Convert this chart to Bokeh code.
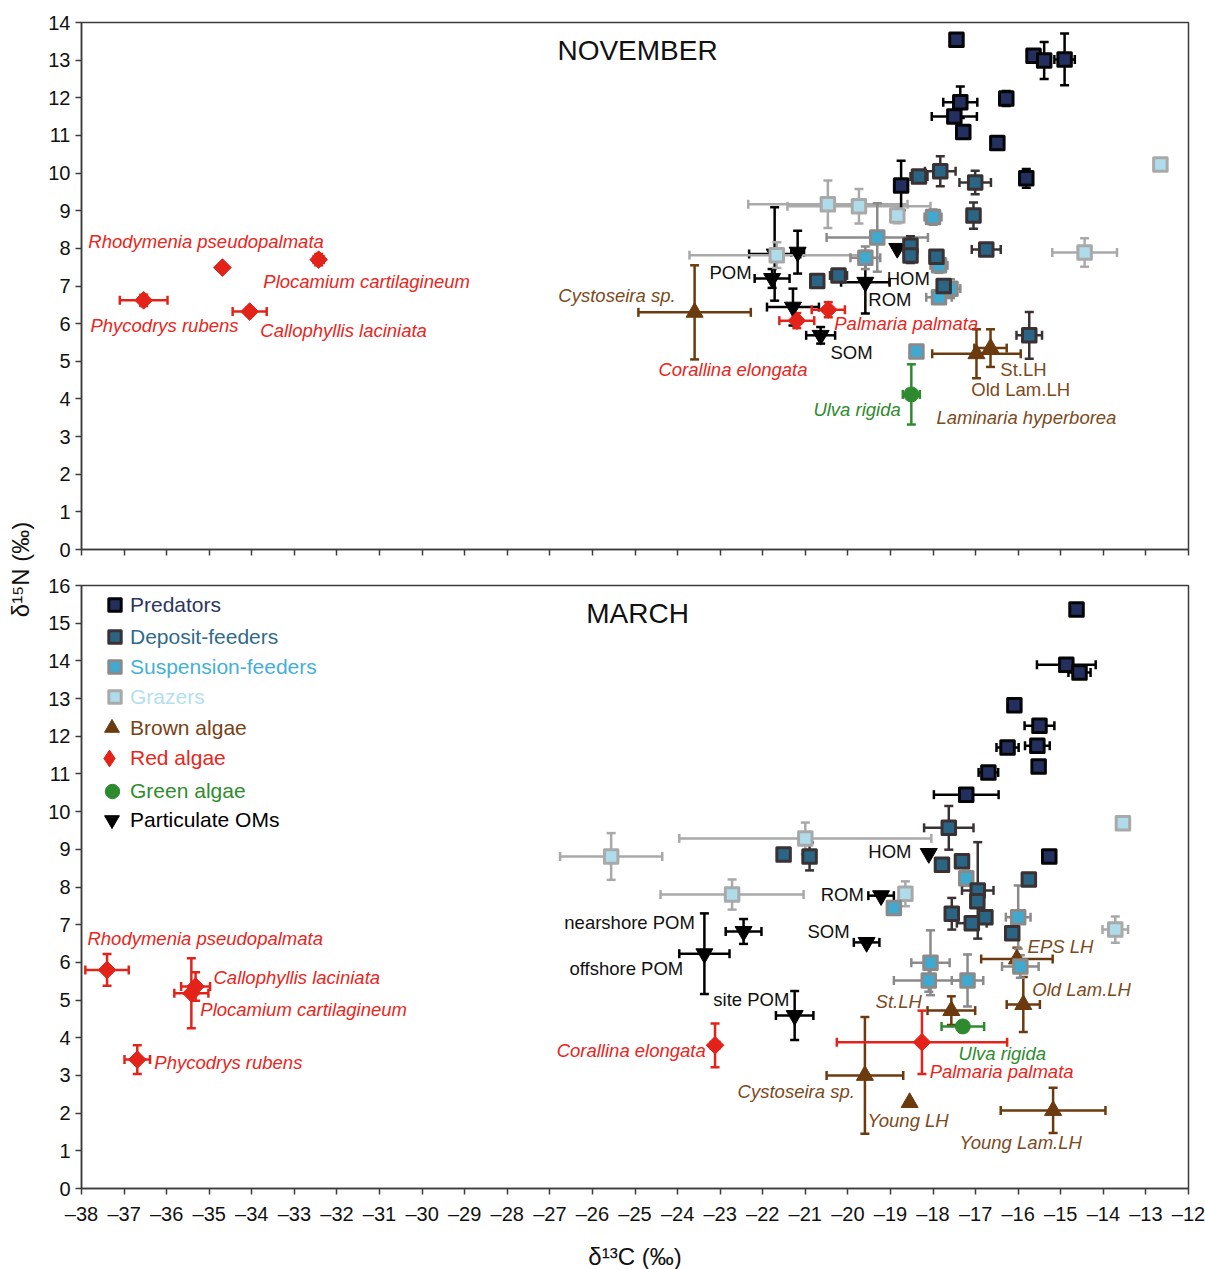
import math
from bokeh.plotting import figure
from bokeh.layouts import row, column
from bokeh.models import (ColumnDataSource, Whisker, TeeHead, Range1d, FixedTicker,
                          Legend, LegendItem, Label)
from bokeh.core.properties import value
from bokeh.embed import file_html
from bokeh.resources import INLINE

FONT = "Liberation Sans"

# ---------------- axes ----------------
X_TICKS = list(range(-38, -11))
X_TICK_LABELS = {t: "\u2013" + str(abs(t)) for t in X_TICKS}
NOV_Y_TICKS = list(range(0, 15))
MAR_Y_TICKS = list(range(0, 17))

# ---------------- NOVEMBER data ----------------
nov_pred_x = [-17.45, -15.64, -15.39, -14.91, -17.36, -17.50, -17.29, -16.28, -16.49, -15.81, -18.75]
nov_pred_y = [13.54, 13.12, 12.99, 13.02, 11.88, 11.50, 11.09, 11.98, 10.80, 9.86, 9.67]
nov_pred_xe = [0, 0, 0.12, 0.24, 0.40, 0.53, 0, 0.10, 0, 0.10, 0]
nov_pred_ye = [0, 0, 0.49, 0.69, 0.42, 0.10, 0, 0.20, 0, 0.25, 0.66]

nov_dep_x = [-18.33, -17.83, -17.01, -17.05, -16.75, -18.53, -18.53, -17.92, -20.72, -20.22, -15.74, -17.75]
nov_dep_y = [9.91, 10.05, 9.75, 8.87, 7.97, 8.07, 7.81, 7.78, 7.13, 7.28, 5.69, 7.00]
nov_dep_xe = [0.20, 0.36, 0.37, 0.15, 0.34, 0.15, 0.15, 0.15, 0, 0.20, 0.30, 0]
nov_dep_ye = [0.15, 0.40, 0.31, 0.35, 0.12, 0.25, 0.20, 0.15, 0, 0.15, 0.62, 0]

nov_sus_x = [-18.00, -19.31, -19.59, -17.86, -17.59, -17.86, -18.39]
nov_sus_y = [8.83, 8.29, 7.75, 7.55, 6.93, 6.70, 5.26]
nov_sus_xe = [0.20, 1.19, 0.35, 0.20, 0.23, 0.30, 0]
nov_sus_ye = [0.20, 0.91, 0.30, 0.20, 0.25, 0.15, 0]

nov_gra_x = [-20.47, -19.74, -18.84, -21.67, -14.44, -12.66]
nov_gra_y = [9.17, 9.12, 8.87, 7.82, 7.89, 10.23]
nov_gra_xe = [1.87, 1.68, 0.10, 2.05, 0.76, 0]
nov_gra_ye = [0.63, 0.46, 0.20, 0.34, 0.38, 0]

nov_brown_x = [-23.60, -16.98, -16.65]
nov_brown_y = [6.30, 5.20, 5.35]
nov_brown_xe = [1.32, 1.04, 0.38]
nov_brown_ye = [1.25, 0.65, 0.50]

nov_red_x = [-36.54, -34.69, -32.43, -34.05, -20.46, -21.20]
nov_red_y = [6.62, 7.49, 7.70, 6.32, 6.37, 6.08]
nov_red_xe = [0.56, 0, 0.12, 0.40, 0.39, 0.41]
nov_red_ye = [0.15, 0, 0.15, 0.10, 0.20, 0.20]

nov_green_x = [-18.51]
nov_green_y = [4.12]
nov_green_xe = [0.20]
nov_green_ye = [0.80]

nov_pom_x = [-21.72, -21.18, -21.78, -21.29, -20.64, -19.59, -18.84]
nov_pom_y = [7.85, 7.90, 7.20, 6.44, 5.69, 7.10, 8.00]
nov_pom_xe = [0.60, 0.15, 0.41, 0.61, 0.34, 0.57, 0]
nov_pom_ye = [1.24, 0.57, 0.25, 0.49, 0.22, 0.83, 0]

# ---------------- MARCH data ----------------
mar_pred_x = [-14.63, -14.87, -14.56, -16.09, -15.50, -16.25, -15.55, -15.52, -16.70, -17.22, -15.27]
mar_pred_y = [15.36, 13.90, 13.69, 12.82, 12.28, 11.70, 11.75, 11.20, 11.04, 10.45, 8.81]
mar_pred_xe = [0, 0.69, 0.26, 0, 0.35, 0.26, 0.29, 0, 0.23, 0.76, 0]
mar_pred_ye = [0, 0, 0, 0, 0, 0, 0, 0, 0, 0, 0]

mar_dep_x = [-17.63, -17.79, -17.32, -16.95, -16.96, -17.56, -17.09, -16.77, -16.14, -15.75, -21.51, -20.90]
mar_dep_y = [9.57, 8.59, 8.68, 7.91, 7.62, 7.29, 7.04, 7.20, 6.77, 8.20, 8.86, 8.81]
mar_dep_xe = [0.58, 0, 0, 0.37, 0, 0, 0.35, 0, 0, 0, 0, 0]
mar_dep_ye = [0.58, 0, 0, 1.28, 0, 0.42, 0, 0, 0, 0, 0, 0.37]

mar_sus_x = [-17.22, -18.92, -16.00, -15.95, -18.06, -18.10, -17.19]
mar_sus_y = [8.23, 7.44, 7.20, 5.89, 5.99, 5.52, 5.52]
mar_sus_xe = [0.15, 0, 0.29, 0.43, 0.45, 0.82, 0.37]
mar_sus_ye = [0.20, 0, 0.84, 0.30, 0.86, 0.30, 0.69]

mar_gra_x = [-25.56, -21.00, -22.72, -18.65, -13.72, -13.54]
mar_gra_y = [8.81, 9.29, 7.80, 7.82, 6.87, 9.69]
mar_gra_xe = [1.20, 2.96, 1.68, 0.10, 0.30, 0]
mar_gra_ye = [0.62, 0.42, 0.40, 0.33, 0.35, 0]

mar_brown_x = [-16.03, -15.88, -17.57, -19.60, -18.55, -15.18]
mar_brown_y = [6.09, 4.88, 4.72, 3.00, 2.28, 2.07]
mar_brown_xe = [0.84, 0.39, 0.56, 0.90, 0, 1.23]
mar_brown_ye = [0.30, 0.73, 0.38, 1.55, 0, 0.60]

mar_red_x = [-37.40, -35.42, -35.32, -36.69, -23.12, -18.26]
mar_red_y = [5.80, 5.18, 5.36, 3.42, 3.80, 3.88]
mar_red_xe = [0.51, 0.40, 0.34, 0.30, 0.10, 2.00]
mar_red_ye = [0.42, 0.93, 0.38, 0.38, 0.58, 0.84]

mar_green_x = [-17.30]
mar_green_y = [4.30]
mar_green_xe = [0.50]
mar_green_ye = [0.10]

mar_pom_x = [-22.45, -23.37, -21.25, -19.56, -19.22, -18.10]
mar_pom_y = [6.82, 6.23, 4.59, 6.53, 7.77, 8.89]
mar_pom_xe = [0.42, 0.59, 0.44, 0.30, 0.30, 0]
mar_pom_ye = [0.33, 1.07, 0.65, 0, 0, 0]

# ---------------- annotation texts ----------------
nov_lab_text = ["Rhodymenia pseudopalmata", "Plocamium cartilagineum", "Phycodrys rubens",
                "Callophyllis laciniata", "Cystoseira sp.", "POM", "HOM", "ROM",
                "Palmaria palmata", "SOM", "Corallina elongata", "St.LH", "Old Lam.LH",
                "Ulva rigida", "Laminaria hyperborea"]
nov_lab_x = [-37.84, -33.73, -37.79, -33.80, -26.80, -23.25, -19.09, -19.52,
             -20.32, -20.41, -24.45, -16.42, -17.10, -20.81, -17.92]
nov_lab_y = [8.18, 7.12, 5.95, 5.82, 6.75, 7.36, 7.20, 6.64,
             6.00, 5.23, 4.78, 4.78, 4.25, 3.72, 3.51]
nov_lab_kind = ["red", "red", "red", "red", "brown_i", "black", "black", "black",
                "red", "black", "red", "brown", "brown", "green", "brown_i"]

mar_lab_text = ["HOM", "ROM", "nearshore POM", "SOM", "offshore POM", "site POM",
                "EPS LH", "Old Lam.LH", "St.LH", "Corallina elongata", "Ulva rigida",
                "Palmaria palmata", "Cystoseira sp.", "Young LH", "Young Lam.LH",
                "Rhodymenia pseudopalmata", "Callophyllis laciniata",
                "Plocamium cartilagineum", "Phycodrys rubens"]
mar_lab_x = [-19.52, -20.64, -26.66, -20.95, -26.54, -23.16,
             -15.78, -15.67, -19.35, -26.84, -17.40,
             -18.08, -22.59, -19.54, -17.38,
             -37.86, -34.90, -35.21, -36.29]
mar_lab_y = [8.94, 7.80, 7.06, 6.82, 5.84, 5.01,
             6.42, 5.28, 4.96, 3.66, 3.58,
             3.10, 2.57, 1.80, 1.22,
             6.63, 5.60, 4.75, 3.34]
mar_lab_kind = ["black", "black", "black", "black", "black", "black",
                "brown_i", "brown_i", "brown_i", "red", "green",
                "red", "brown_i", "brown_i", "brown_i",
                "red", "red", "red", "red"]

LEGEND_NAMES = ["Predators", "Deposit-feeders", "Suspension-feeders", "Grazers",
                "Brown algae", "Red algae", "Green algae", "Particulate OMs"]

# ---------------- styles ----------------
STYLES = {
    "pred": dict(marker="square", size=13.5, fill="#23305f", line="#050505", lw=3, bar="#000000", angle=0, text="#2b3560", box=31),
    "dep": dict(marker="square", size=13.5, fill="#2b6585", line="#3a3232", lw=3, bar="#3a3232", angle=0, text="#2f6b8a", box=31),
    "sus": dict(marker="square", size=13.5, fill="#3eaad1", line="#8a8a8a", lw=3, bar="#8a8a8a", angle=0, text="#45b0d6", box=31),
    "gra": dict(marker="square", size=13.5, fill="#afdcea", line="#a9a9a9", lw=3, bar="#a9a9a9", angle=0, text="#b3dff0", box=31),
    "brown": dict(marker="triangle", size=17, fill="#6b3a0e", line="#6b3a0e", lw=1, bar="#6b3a0e", angle=0, text="#7a4214", box=37),
    "red": dict(marker="square", size=12.5, fill="#e3231a", line="#e3231a", lw=1, bar="#e3231a", angle=math.pi / 4, text="#e8261c", box=42),
    "green": dict(marker="circle", size=15, fill="#2e8a2e", line="#2e8a2e", lw=1, bar="#2e8a2e", angle=0, text="#2f8c2f", box=36),
    "pom": dict(marker="inverted_triangle", size=17, fill="#000000", line="#000000", lw=1, bar="#000000", angle=0, text="#000000", box=37),
}
LABEL_KINDS = {
    "red": ("#e8261c", "italic"),
    "green": ("#2e8b2e", "italic"),
    "brown_i": ("#7b4a1c", "italic"),
    "brown": ("#7b4a1c", "normal"),
    "black": ("#111111", "normal"),
}
AXIS_COLOR = "#3c3c3c"


def make_panel(y_max, y_ticks, frame_h, border_top, border_bottom, show_x_labels):
    p = figure(frame_width=1107, frame_height=frame_h,
               x_range=Range1d(-38, -12), y_range=Range1d(0, y_max),
               output_backend="svg", toolbar_location=None,
               min_border_left=38, min_border_right=17,
               min_border_top=border_top, min_border_bottom=border_bottom)
    p.grid.visible = False
    p.outline_line_color = AXIS_COLOR
    p.outline_line_width = 1.5
    p.background_fill_color = "white"
    for ax in (p.xaxis[0], p.yaxis[0]):
        ax.axis_line_color = AXIS_COLOR
        ax.axis_line_width = 1.5
        ax.major_tick_line_color = AXIS_COLOR
        ax.major_tick_line_width = 1.5
        ax.major_tick_out = 6
        ax.major_tick_in = 0
        ax.minor_tick_line_color = None
        ax.major_label_text_font = FONT
        ax.major_label_text_font_size = "20px"
        ax.major_label_text_color = "#111111"
    p.xaxis[0].ticker = FixedTicker(ticks=X_TICKS)
    p.yaxis[0].ticker = FixedTicker(ticks=y_ticks)
    p.yaxis[0].major_label_standoff = 5
    if show_x_labels:
        p.xaxis[0].major_label_overrides = X_TICK_LABELS
        p.xaxis[0].major_label_standoff = 8
        p.xaxis[0].axis_label = "\u03b4\u00b9\u00b3C (\u2030)"
        p.xaxis[0].axis_label_text_font = FONT
        p.xaxis[0].axis_label_text_font_style = "normal"
        p.xaxis[0].axis_label_text_font_size = "24px"
        p.xaxis[0].axis_label_standoff = 15
        p.xaxis[0].axis_label_text_color = "#111111"
    else:
        p.xaxis[0].major_label_text_font_size = "1px"
        p.xaxis[0].major_label_text_color = None
        p.xaxis[0].major_label_standoff = 0
    return p


def add_bars(p, base, centre, err, dim, color):
    keep = [(b, c, e) for b, c, e in zip(base, centre, err) if e > 0]
    if not keep:
        return
    src = ColumnDataSource(dict(base=[k[0] for k in keep],
                                lower=[k[1] - k[2] for k in keep],
                                upper=[k[1] + k[2] for k in keep]))
    w = Whisker(source=src, base="base", lower="lower", upper="upper", dimension=dim,
                line_color=color, line_width=2.5,
                lower_head=TeeHead(size=9, line_color=color, line_width=2.5),
                upper_head=TeeHead(size=9, line_color=color, line_width=2.5))
    p.add_layout(w)


def draw_group(p, xs, ys, xes, yes, key):
    st = STYLES[key]
    add_bars(p, ys, xs, xes, "width", st["bar"])
    add_bars(p, xs, ys, yes, "height", st["bar"])
    src = ColumnDataSource(dict(x=xs, y=ys))
    key_r = None
    if key == "red":
        # plain diamond underneath the rotated square: serves as the legend key
        key_r = p.scatter("x", "y", source=src, marker="diamond", size=15,
                          fill_color=st["fill"], line_color=st["line"], line_width=1)
    r = p.scatter("x", "y", source=src, marker=st["marker"], size=st["size"],
                  fill_color=st["fill"], line_color=st["line"], line_width=st["lw"],
                  line_join="round", angle=st["angle"])
    return key_r if key_r is not None else r


def draw_labels(p, texts, xs, ys, kinds):
    for kind, (color, style) in LABEL_KINDS.items():
        idx = [i for i, k in enumerate(kinds) if k == kind]
        if not idx:
            continue
        src = ColumnDataSource(dict(x=[xs[i] for i in idx], y=[ys[i] for i in idx],
                                    t=[texts[i] for i in idx]))
        p.text("x", "y", text="t", source=src, text_font=value(FONT),
               text_font_size="18.5px", text_font_style=style, text_color=color,
               text_align="left", text_baseline="middle")


# ---------------- NOVEMBER panel ----------------
top = make_panel(14, NOV_Y_TICKS, 527, 22, 22, False)
draw_group(top, nov_pom_x, nov_pom_y, nov_pom_xe, nov_pom_ye, "pom")
draw_group(top, nov_brown_x, nov_brown_y, nov_brown_xe, nov_brown_ye, "brown")
draw_group(top, nov_red_x, nov_red_y, nov_red_xe, nov_red_ye, "red")
draw_group(top, nov_green_x, nov_green_y, nov_green_xe, nov_green_ye, "green")
draw_group(top, nov_gra_x, nov_gra_y, nov_gra_xe, nov_gra_ye, "gra")
draw_group(top, nov_sus_x, nov_sus_y, nov_sus_xe, nov_sus_ye, "sus")
draw_group(top, nov_dep_x, nov_dep_y, nov_dep_xe, nov_dep_ye, "dep")
draw_group(top, nov_pred_x, nov_pred_y, nov_pred_xe, nov_pred_ye, "pred")
draw_labels(top, nov_lab_text, nov_lab_x, nov_lab_y, nov_lab_kind)
top.add_layout(Label(x=-24.94, y=13.26, text="NOVEMBER", text_align="center",
                     text_baseline="middle", text_font=FONT, text_font_size="28px",
                     text_color="#111111"))

# ---------------- MARCH panel ----------------
bot = make_panel(16, MAR_Y_TICKS, 603, 14, 80, True)
r_pom = draw_group(bot, mar_pom_x, mar_pom_y, mar_pom_xe, mar_pom_ye, "pom")
r_brown = draw_group(bot, mar_brown_x, mar_brown_y, mar_brown_xe, mar_brown_ye, "brown")
r_red = draw_group(bot, mar_red_x, mar_red_y, mar_red_xe, mar_red_ye, "red")
r_green = draw_group(bot, mar_green_x, mar_green_y, mar_green_xe, mar_green_ye, "green")
r_gra = draw_group(bot, mar_gra_x, mar_gra_y, mar_gra_xe, mar_gra_ye, "gra")
r_sus = draw_group(bot, mar_sus_x, mar_sus_y, mar_sus_xe, mar_sus_ye, "sus")
r_dep = draw_group(bot, mar_dep_x, mar_dep_y, mar_dep_xe, mar_dep_ye, "dep")
r_pred = draw_group(bot, mar_pred_x, mar_pred_y, mar_pred_xe, mar_pred_ye, "pred")
draw_labels(bot, mar_lab_text, mar_lab_x, mar_lab_y, mar_lab_kind)
bot.add_layout(Label(x=-24.94, y=15.26, text="MARCH", text_align="center",
                     text_baseline="middle", text_font=FONT, text_font_size="28px",
                     text_color="#111111"))

legend_renderers = [r_pred, r_dep, r_sus, r_gra, r_brown, r_red, r_green, r_pom]
legend_keys = ["pred", "dep", "sus", "gra", "brown", "red", "green", "pom"]
legend_centres = [584, 552, 522, 492, 460, 430, 397, 368]   # px above the frame bottom
LEGEND_TEXT_LEFT = 49                                       # px right of the frame left
for name, rend, key, cy in zip(LEGEND_NAMES, legend_renderers, legend_keys, legend_centres):
    box = STYLES[key]["box"]
    leg = Legend(items=[LegendItem(label=name, renderers=[rend])],
                 location=(LEGEND_TEXT_LEFT - box, int(round(cy - box / 2))),
                 border_line_color=None, background_fill_alpha=0, padding=0, margin=0,
                 spacing=0, glyph_width=box, glyph_height=box, label_standoff=0,
                 label_text_font=FONT, label_text_font_size="21px",
                 label_text_baseline="middle",
                 label_text_color=STYLES[key]["text"])
    bot.add_layout(leg)

# ---------------- shared y label ----------------
LAB_H = 22 + 527 + 22 + 14 + 603 + 80
lab = figure(width=43, height=LAB_H, x_range=Range1d(0, 43), y_range=Range1d(0, LAB_H),
             output_backend="svg", toolbar_location=None, x_axis_type=None,
             y_axis_type=None, min_border=0, outline_line_color=None)
lab.grid.visible = False
lab.add_layout(Label(x=20, y=LAB_H - 569, text="\u03b4\u00b9\u2075N (\u2030)", angle=math.pi / 2,
                     text_align="center", text_baseline="middle", text_font=FONT,
                     text_font_size="24px", text_color="#111111"))

layout = row(lab, column(top, bot))
open("out.html", "w").write(file_html(layout, INLINE))
